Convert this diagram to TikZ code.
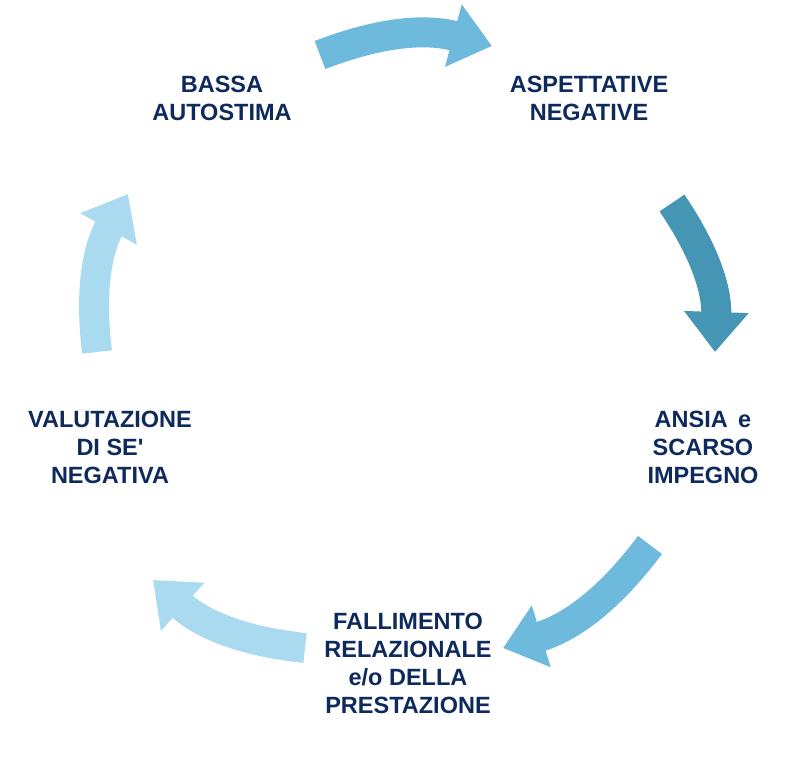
\documentclass[tikz,border=0pt]{standalone}
\usepackage{fontspec}
\setmainfont{Liberation Sans}
\usetikzlibrary{arrows.meta}
\definecolor{navy}{HTML}{0E2A5C}
\definecolor{cmid}{HTML}{6DBADC}
\definecolor{cdark}{HTML}{4596B5}
\definecolor{clight}{HTML}{A9DAF0}
\begin{document}
\begin{tikzpicture}[x=1pt,y=-1pt,
  lbl/.style={font=\bfseries\fontsize{23.5}{28}\selectfont,text=navy,align=center},
  arr/.style={line width=30pt,-{Triangle[width=62pt,length=40pt]}}]
\useasboundingbox (0,0) rectangle (798,758);
\node[lbl] (n1) at (222,98) {BASSA\\AUTOSTIMA};
\node[lbl] (n2) at (589,98) {ASPETTATIVE\\NEGATIVE};
\node[lbl] (n3) at (703,447) {ANSIA\, e\\SCARSO\\IMPEGNO};
\node[lbl] (n4) at (408,663) {FALLIMENTO\\RELAZIONALE\\e/o DELLA\\PRESTAZIONE};
\node[lbl] (n5) at (110,447) {VALUTAZIONE\\DI SE\textquotesingle\\NEGATIVA};
\coordinate (a1) at (320,55); \coordinate (b1) at (492,46);
\coordinate (a2) at (672,203); \coordinate (b2) at (715,352);
\coordinate (a3) at (650,545); \coordinate (b3) at (503,648);
\coordinate (a4) at (305,648); \coordinate (b4) at (153,580);
\coordinate (a5) at (97,352); \coordinate (b5) at (128,194);
\draw[arr,cmid] (a1) to[bend left=18] (b1);
\draw[arr,cdark] (a2) to[bend left=18] (b2);
\draw[arr,cmid] (a3) to[bend left=18] (b3);
\draw[arr,clight] (a4) to[bend left=18] (b4);
\draw[arr,clight] (a5) to[bend left=18] (b5);
\end{tikzpicture}
\end{document}
